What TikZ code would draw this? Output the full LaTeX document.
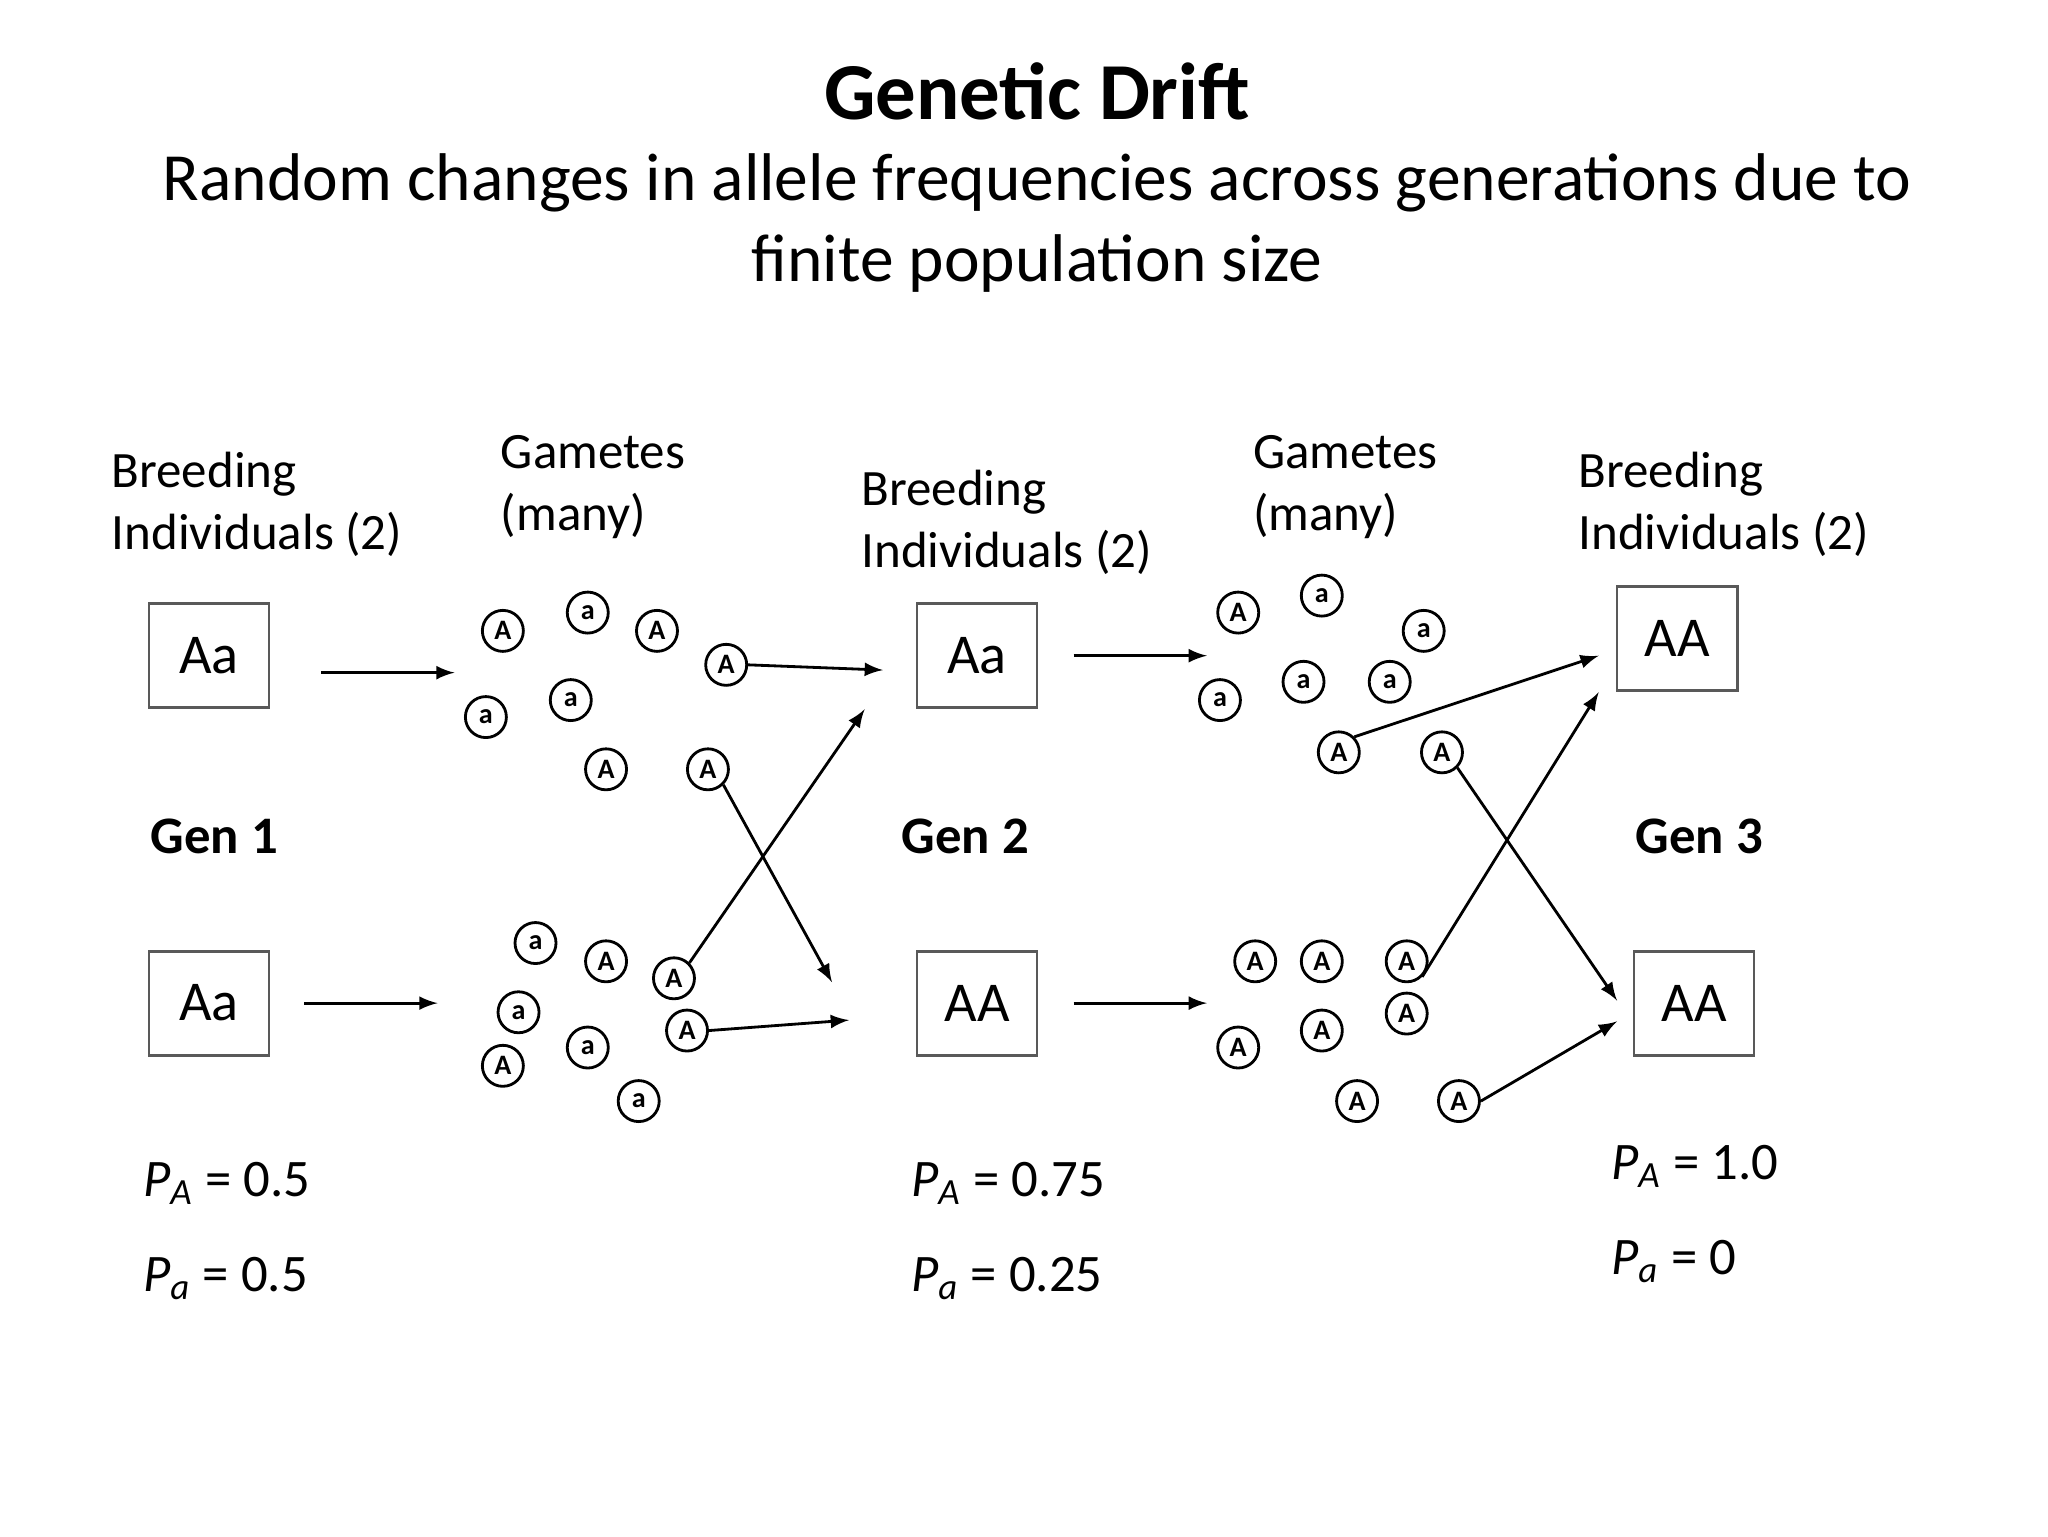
\documentclass[tikz,border=0pt]{standalone}
\usepackage{fontspec}
\setmainfont{Carlito}
\newcommand{\PP}[1]{\textit{P}\textsubscript{\textit{#1}}}
\begin{document}
\begin{tikzpicture}[x=0.1306mm,y=-0.1306mm,
  gam/.style={circle,draw,thick,minimum size=4.1mm,inner sep=0pt,font=\fontsize{8}{8}\selectfont\bfseries},
  ind/.style={draw,thick,gray!70!black,minimum width=12mm,minimum height=10.4mm,text=black,font=\fontsize{16}{16}\selectfont},
  lab/.style={align=left,anchor=west,font=\fontsize{14.5}{17.8}\selectfont},
  gen/.style={font=\fontsize{15}{15}\selectfont\bfseries},
  pl/.style={anchor=west,font=\fontsize{15}{15}\selectfont},
  arr/.style={-latex,thick}]
\useasboundingbox (0,0) rectangle (1568,1176);
\node[font=\fontsize{23}{23}\selectfont\bfseries] (t) at (794,70) {Genetic Drift};
\node[align=center,font=\fontsize{19.2}{23}\selectfont] (st) at (794,171) {Random changes in allele frequencies across generations due to\\finite population size};
\node[lab] (l1) at (76,386) {Breeding\\Individuals (2)};
\node[lab] (l2) at (374,373) {Gametes\\(many)};
\node[lab] (l3) at (650,400) {Breeding\\Individuals (2)};
\node[lab] (l4) at (950,373) {Gametes\\(many)};
\node[lab] (l5) at (1199,386) {Breeding\\Individuals (2)};
\node[gen] (g1) at (164,640) {Gen 1};
\node[gen] (g2) at (739,640) {Gen 2};
\node[gen] (g3) at (1301,640) {Gen 3};
\node[pl] (p1) at (100,906) {\PP{A} = 0.5};
\node[pl] (q1) at (100,979) {\PP{a} = 0.5};
\node[pl] (p2) at (688,906) {\PP{A} = 0.75};
\node[pl] (q2) at (688,979) {\PP{a} = 0.25};
\node[pl] (p3) at (1224,893) {\PP{A} = 1.0};
\node[pl] (q3) at (1224,966) {\PP{a} = 0};
\node[ind] (b1t) at (160,502) {Aa};
\node[ind] (b1b) at (160,768) {Aa};
\node[ind] (b2t) at (748,502) {Aa};
\node[ind] (b2b) at (748,768) {AA};
\node[ind] (b3t) at (1284,489) {AA};
\node[ind] (b3b) at (1297,768) {AA};
\foreach \x/\y/\l/\n in {385/483/A/a1,450/469/a/a2,503/483/A/a3,556/509/A/a4,372/549/a/a5,437/536/a/a6,464/589/A/a7,542/589/A/a8,
 410/722/a/b1,464/736/A/b2,516/749/A/b3,397/775/a/b4,526/789/A/b5,385/816/A/b6,450/802/a/b7,489/843/a/b8,
 948/469/A/c1,1012/456/a/c2,1090/483/a/c3,934/536/a/c4,998/522/a/c5,1064/522/a/c6,1025/576/A/c7,1104/576/A/c8,
 961/736/A/d1,1012/736/A/d2,1077/736/A/d3,948/802/A/d4,1012/789/A/d5,1077/776/A/d6,1039/843/A/d7,1117/843/A/d8}
 \node[gam] (\n) at (\x,\y) {\l};
\coordinate (e1s) at (246,515); \coordinate (e1e) at (348,515);
\coordinate (e2s) at (233,768); \coordinate (e2e) at (335,768);
\coordinate (e3e) at (676,513);
\coordinate (e4e) at (662,543);
\coordinate (e5e) at (637,752);
\coordinate (e6e) at (650,781);
\coordinate (e7s) at (822,502); \coordinate (e7e) at (924,502);
\coordinate (e8s) at (822,768); \coordinate (e8e) at (924,768);
\coordinate (e9e) at (1224,502);
\coordinate (e10e) at (1224,530);
\coordinate (e11e) at (1238,766);
\coordinate (e12e) at (1238,782);
\draw[arr] (e1s) -- (e1e);
\draw[arr] (e2s) -- (e2e);
\draw[arr] (a4.east) -- (e3e);
\draw[arr] (b3.north east) -- (e4e);
\draw[arr] (a8.south east) -- (e5e);
\draw[arr] (b5.east) -- (e6e);
\draw[arr] (e7s) -- (e7e);
\draw[arr] (e8s) -- (e8e);
\draw[arr] (c7.north east) -- (e9e);
\draw[arr] (d3.south east) -- (e10e);
\draw[arr] (c8.south east) -- (e11e);
\draw[arr] (d8.east) -- (e12e);
\end{tikzpicture}
\end{document}
